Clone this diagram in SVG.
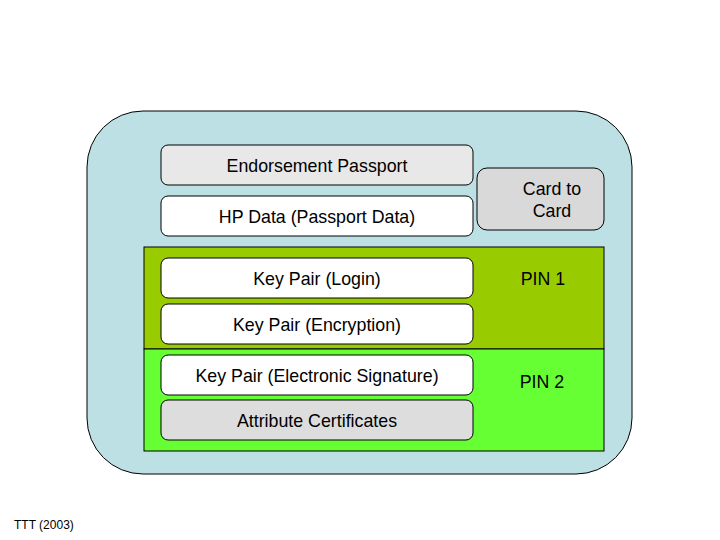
<svg xmlns="http://www.w3.org/2000/svg" width="720" height="540" viewBox="0 0 720 540">
<style>
.box{stroke:#000;stroke-width:1}
.lbl{font-family:"Liberation Sans",Arial,sans-serif;font-size:17.8px;fill:#000;text-anchor:middle;dominant-baseline:central}
.small{font-family:"Liberation Sans",Arial,sans-serif;font-size:12px;fill:#000}
</style>
<rect width="720" height="540" fill="#fff"/>
<g id="card">
<rect x="87" y="111" width="545" height="363" rx="56" ry="56" fill="#bde0e4" class="box"/>
</g>
<g id="pin1-zone">
<rect x="144" y="247" width="460" height="102" fill="#99cc00" class="box"/>
<text x="543" y="279" class="lbl">PIN 1</text>
</g>
<g id="pin2-zone">
<rect x="144" y="349" width="460" height="102" fill="#66ff33" class="box"/>
<text x="542" y="382" class="lbl">PIN 2</text>
</g>
<g id="endorsement">
<rect x="161" y="145" width="312" height="40" rx="7" fill="#e8e8e8" class="box"/>
<text x="317" y="166" class="lbl">Endorsement Passport</text>
</g>
<g id="hpdata">
<rect x="161" y="196" width="312" height="40" rx="7" fill="#fff" class="box"/>
<text x="317" y="217" class="lbl">HP Data (Passport Data)</text>
</g>
<g id="cardtocard">
<rect x="477" y="168" width="127" height="62" rx="10" fill="#d9d9d9" class="box"/>
<text x="552" y="189" class="lbl">Card to</text>
<text x="552" y="211" class="lbl">Card</text>
</g>
<g id="login">
<rect x="161" y="258" width="312" height="40" rx="7" fill="#fff" class="box"/>
<text x="317" y="279" class="lbl">Key Pair (Login)</text>
</g>
<g id="encryption">
<rect x="161" y="304" width="312" height="40" rx="7" fill="#fff" class="box"/>
<text x="317" y="325" class="lbl">Key Pair (Encryption)</text>
</g>
<g id="signature">
<rect x="161" y="355" width="312" height="40" rx="7" fill="#fff" class="box"/>
<text x="317" y="376" class="lbl">Key Pair (Electronic Signature)</text>
</g>
<g id="attrcert">
<rect x="161" y="400" width="312" height="40" rx="7" fill="#dddddd" class="box"/>
<text x="317" y="421" class="lbl">Attribute Certificates</text>
</g>
<g id="connectors"></g>
<text x="14" y="529" class="small">TTT (2003)</text>
</svg>
